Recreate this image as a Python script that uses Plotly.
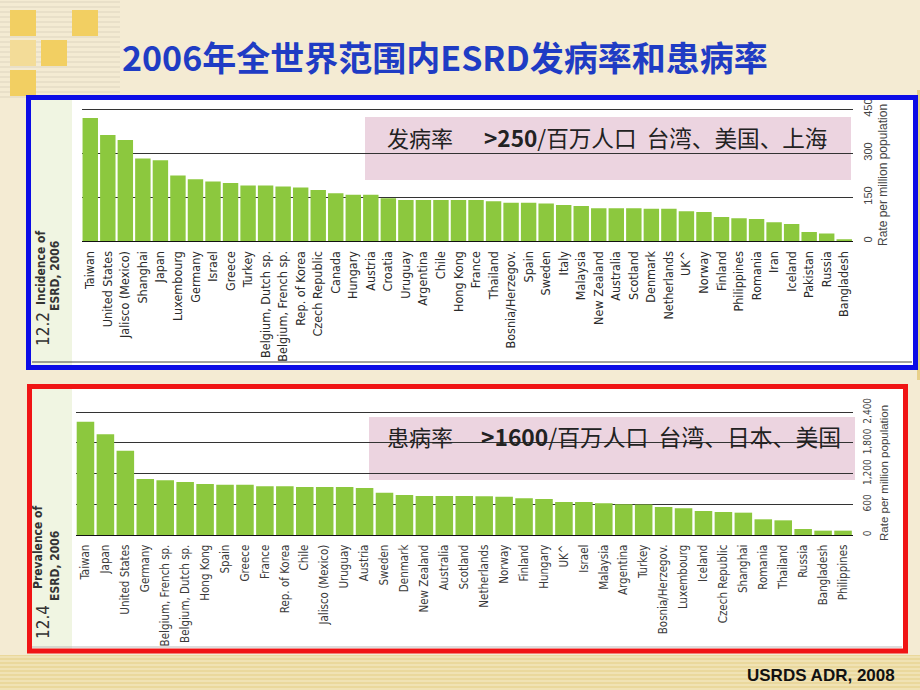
import plotly.graph_objects as go

W, H = 920, 690

# ---------------- data ----------------
inc_countries = ["Taiwan", "United States", "Jalisco (Mexico)", "Shanghai", "Japan", "Luxembourg",
                 "Germany", "Israel", "Greece", "Turkey", "Belgium, Dutch sp.", "Belgium, French sp.",
                 "Rep. of Korea", "Czech Republic", "Canada", "Hungary", "Austria", "Croatia",
                 "Uruguay", "Argentina", "Chile", "Hong Kong", "France", "Thailand",
                 "Bosnia/Herzegov.", "Spain", "Sweden", "Italy", "Malaysia", "New Zealand",
                 "Australia", "Scotland", "Denmark", "Netherlands", "UK^", "Norway", "Finland",
                 "Philippines", "Romania", "Iran", "Iceland", "Pakistan", "Russia", "Bangladesh"]
inc_values = [420, 362, 345, 282, 276, 224, 211, 203, 198, 190, 190, 186, 183, 174, 163, 158, 158,
              146, 140, 140, 140, 140, 140, 136, 131, 131, 128, 123, 120, 112, 112, 112, 110, 110,
              102, 99, 82, 78, 75, 64, 58, 31, 26, 6]

prev_countries = ["Taiwan", "Japan", "United States", "Germany", "Belgium, French sp.",
                  "Belgium, Dutch sp.", "Hong Kong", "Spain", "Greece", "France", "Rep. of Korea",
                  "Chile", "Jalisco (Mexico)", "Uruguay", "Austria", "Sweden", "Denmark",
                  "New Zealand", "Australia", "Scotland", "Netherlands", "Norway", "Finland",
                  "Hungary", "UK^", "Israel", "Malaysia", "Argentina", "Turkey", "Bosnia/Herzegov.",
                  "Luxembourg", "Iceland", "Czech Republic", "Shanghai", "Romania", "Thailand",
                  "Russia", "Bangladesh", "Philippines"]
prev_values = [2217, 1970, 1650, 1096, 1070, 1037, 998, 984, 984, 953, 953, 940, 940, 940, 920,
               828, 783, 763, 763, 763, 760, 750, 718, 705, 646, 646, 620, 600, 595, 548, 522,
               470, 450, 437, 307, 287, 117, 85, 85]

inc_tickvals = [0, 150, 300, 450]
inc_ticktext = ["0", "150", "300", "450"]
prev_tickvals = [0, 600, 1200, 1800, 2400]
prev_ticktext = ["0", "600", "1,200", "1,800", "2,400"]

title_text = "2006年全世界范围内ESRD发病率和患病率"
axis_title = "Rate per million population"

# ---------------- helpers ----------------
def px(x):
    return x / W

def py(y):
    return 1 - y / H

BAR = "#8cc83e"
NARROW = "Liberation Sans Narrow, DejaVu Sans Condensed, Liberation Sans, Arial, sans-serif"
SANS = "Liberation Sans, Arial, sans-serif"
CJK = "Noto Sans CJK SC, sans-serif"

# geometry of the two plot areas (pixels)
t_base, t_top_grid = 241.0, 109.3
k1 = (t_base - t_top_grid) / 450.0
t_rng = 456
t_top = t_base - t_rng * k1

b_base, b_top_grid = 535.0, 412.3
k2 = (b_base - b_top_grid) / 2400.0
b_rng = 2436
b_top = b_base - b_rng * k2

fig = go.Figure()
fig.add_trace(go.Bar(x=inc_countries, y=inc_values, marker=dict(color=BAR, line=dict(width=0)),
                     xaxis="x", yaxis="y", showlegend=False, hoverinfo="x+y"))
fig.add_trace(go.Bar(x=prev_countries, y=prev_values, marker=dict(color=BAR, line=dict(width=0)),
                     xaxis="x2", yaxis="y2", showlegend=False, hoverinfo="x+y"))

axis_common = dict(showgrid=False, zeroline=False, ticks="", fixedrange=True, automargin=False)

fig.update_layout(
    width=W, height=H, autosize=False,
    margin=dict(l=0, r=0, t=0, b=0, pad=0, autoexpand=False),
    paper_bgcolor="#f4ebd3",
    plot_bgcolor="rgba(0,0,0,0)",
    bargap=0.12,
    xaxis=dict(domain=[px(81.5), px(853)], anchor="y", type="category",
               tickangle=-90, tickfont=dict(family=NARROW, size=12.5, color="#2a2a2a"),
               showline=True, linecolor="#111111", linewidth=1, ticklabelstandoff=4,
               **axis_common),
    yaxis=dict(domain=[py(t_base), py(t_top)], anchor="x", side="right", range=[0, t_rng],
               tickvals=inc_tickvals, ticktext=inc_ticktext, tickangle=-90,
               tickfont=dict(family=SANS, size=11, color="#444444"),
               showgrid=True, gridcolor="#333333", gridwidth=1, ticklabelstandoff=7,
               showline=False, ticks="", zeroline=False, fixedrange=True, automargin=False),
    xaxis2=dict(domain=[px(75.5), px(853)], anchor="y2", type="category",
                tickangle=-90, tickfont=dict(family=NARROW, size=11.5, color="#3a3a3a"),
                showline=True, linecolor="#111111", linewidth=1, ticklabelstandoff=4,
                **axis_common),
    yaxis2=dict(domain=[py(b_base), py(b_top)], anchor="x2", side="right", range=[0, b_rng],
                tickvals=prev_tickvals, ticktext=prev_ticktext, tickangle=-90,
                tickfont=dict(family=NARROW, size=10, color="#444444"),
                showgrid=True, gridcolor="#333333", gridwidth=1, ticklabelstandoff=7,
                showline=False, ticks="", zeroline=False, fixedrange=True, automargin=False),
)

shapes = []

def rect(x0, y0, x1, y1, fill=None, line_color=None, lw=0, layer="below"):
    d = dict(type="rect", xref="paper", yref="paper", x0=px(x0), x1=px(x1), y0=py(y1), y1=py(y0),
             layer=layer, line=dict(width=lw, color=line_color or "rgba(0,0,0,0)"))
    d["fillcolor"] = fill if fill else "rgba(0,0,0,0)"
    return d

# background decoration
shapes.append(rect(0, 655, 920, 690, fill="#ead89c"))
for yy in range(657, 690, 4):
    shapes.append(dict(type="line", xref="paper", yref="paper", x0=0, x1=1, y0=py(yy), y1=py(yy),
                       layer="below", line=dict(color="#f2e6bd", width=1.5)))
for yy in range(2, 100, 5):
    shapes.append(dict(type="line", xref="paper", yref="paper", x0=0, x1=px(120), y0=py(yy), y1=py(yy),
                       layer="below", line=dict(color="#e6ddc6", width=1.5)))
shapes.append(rect(917, 90, 920, 380, fill="#e8d08a"))
# yellow squares
for (x0, y0, c) in [(10, 10, "#f2cf62"), (72, 10, "#f2cf62"), (10, 40, "#f3dc98"),
                    (41, 40, "#f2cf62"), (10, 70, "#f2cf62")]:
    shapes.append(rect(x0, y0, x0 + 26, y0 + 26, fill=c))

# panels
shapes.append(rect(30, 99, 914, 366, fill="#ffffff"))
shapes.append(rect(31, 99, 72, 366, fill="#f0f5e2"))
shapes.append(rect(31, 388, 904, 650, fill="#ffffff"))
shapes.append(rect(31, 388, 72, 650, fill="#f0f5e2"))
# pink boxes
shapes.append(rect(365, 117, 851, 180, fill="#ecd4e0"))
shapes.append(rect(369, 417, 855, 480, fill="#ecd4e0"))
# thin bottom rules
shapes.append(dict(type="line", xref="paper", yref="paper", x0=px(32), x1=px(912), y0=py(362), y1=py(362),
                   layer="below", line=dict(color="#444444", width=1)))
shapes.append(dict(type="line", xref="paper", yref="paper", x0=px(32), x1=px(902), y0=py(647), y1=py(647),
                   layer="below", line=dict(color="#bbbbbb", width=1)))
# borders
shapes.append(rect(28.5, 97.5, 915.5, 367.5, line_color="#0c0ce6", lw=5, layer="above"))
shapes.append(rect(29.5, 386.5, 905.5, 651, line_color="#f01414", lw=5, layer="above"))

annotations = []

def ann(x, y, text, size, color="#222222", family=CJK, angle=0, xanchor="center", yanchor="middle"):
    annotations.append(dict(xref="paper", yref="paper", x=px(x), y=py(y), text=text, showarrow=False,
                            font=dict(family=family, size=size, color=color), textangle=angle,
                            xanchor=xanchor, yanchor=yanchor))

ann(445, 57, "<b>" + title_text + "</b>", 34, color="#1f3cc4")
ann(420, 137, "发病率", 22)
ann(482, 137, "<b>&gt;250</b>/百万人口  台湾、美国、上海", 22.6, xanchor="left")
ann(420, 436, "患病率", 22)
ann(479, 436, "<b>&gt;1600</b>/百万人口  台湾、日本、美国", 22.8, xanchor="left")
ann(883, 175, axis_title, 12, color="#444444", family=SANS, angle=-90)
ann(884, 473, axis_title, 11.5, color="#444444", family=SANS, angle=-90)
ann(41, 268, "<b>Incidence of</b>", 12, color="#333333", family=NARROW, angle=-90)
ann(55, 276, "<b>ESRD, 2006</b>", 12, color="#333333", family=NARROW, angle=-90)
ann(43, 329, "12.2", 17, color="#333333", family=NARROW, angle=-90)
ann(38, 548, "<b>Prevalence of</b>", 12, color="#333333", family=NARROW, angle=-90)
ann(55, 566, "<b>ESRD, 2006</b>", 12, color="#333333", family=NARROW, angle=-90)
ann(43, 622, "12.4", 17, color="#333333", family=NARROW, angle=-90)
ann(897, 675, "<b>USRDS ADR, 2008</b>", 17, color="#111111", family=SANS, xanchor="right")

fig.update_layout(shapes=shapes, annotations=annotations)
fig.write_html(
    "out.html",
    config={"displayModeBar": False},
    post_script=(
        "document.documentElement.style.margin='0px';"
        "document.documentElement.style.overflow='hidden';"
        "document.body.style.margin='0px';document.body.style.padding='0px';"
        "document.body.style.overflow='hidden';"
        "var gd=document.getElementById('{plot_id}');"
        "gd.style.position='fixed';gd.style.top='0px';gd.style.left='0px';"
    ),
)
